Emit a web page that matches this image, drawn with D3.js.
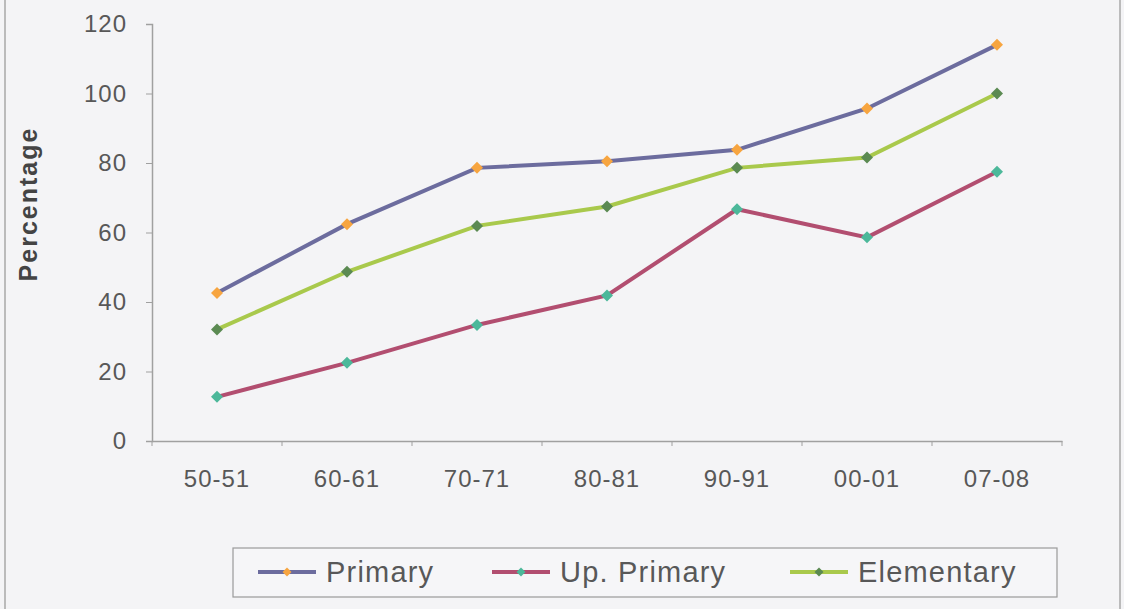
<!DOCTYPE html>
<html><head><meta charset="utf-8">
<script src="https://cdn.jsdelivr.net/npm/d3@7"></script>
<style>body{margin:0;background:#f4f4f6;} svg{display:block;font-family:"Liberation Sans",Arial,sans-serif;}</style>
</head><body>
<svg id="c" width="1124" height="609"></svg>
<script>
const categories = ["50-51","60-61","70-71","80-81","90-91","00-01","07-08"];
const primary = [42.6, 62.4, 78.6, 80.5, 83.8, 95.7, 114.0];
const upPrimary = [12.7, 22.5, 33.4, 41.9, 66.7, 58.6, 77.5];
const elementary = [32.1, 48.7, 61.9, 67.5, 78.6, 81.6, 100.0];
const yTicks = [0, 20, 40, 60, 80, 100, 120];
const seriesNames = ["Primary", "Up. Primary", "Elementary"];

const series = [
  {name: seriesNames[0], values: primary, line: "#6c6c9e", marker: "#f7a540"},
  {name: seriesNames[1], values: upPrimary, line: "#b24e70", marker: "#4cb89a"},
  {name: seriesNames[2], values: elementary, line: "#a9c94c", marker: "#5b8a52"}
];

const svg = d3.select("#c");
svg.append("rect").attr("x", 5).attr("y", -2).attr("width", 1115).attr("height", 614)
  .attr("fill", "#f4f4f6").attr("stroke", "#a8a8a8").attr("stroke-width", 1.5);

const x = d3.scaleBand().domain(categories).range([152, 1062]);
const y = d3.scaleLinear().domain([0, 120]).range([441, 24]);

const gx = svg.append("g").attr("transform", "translate(0,441)")
  .call(d3.axisBottom(x).tickSize(0).tickPadding(29));
gx.select(".domain").attr("stroke", "#a0a0a0").attr("stroke-width", 1.5);
gx.selectAll("text").attr("fill", "#585858").style("font-size", "24px").style("letter-spacing", "1px");
gx.selectAll(".sep").data(categories.concat(["end"])).enter().append("line")
  .attr("x1", (d, i) => 152 + i * x.bandwidth()).attr("x2", (d, i) => 152 + i * x.bandwidth())
  .attr("y1", 0).attr("y2", 5).attr("stroke", "#a0a0a0");

const gy = svg.append("g").attr("transform", "translate(152,0)")
  .call(d3.axisLeft(y).tickValues(yTicks).tickSize(6).tickPadding(19));
gy.select(".domain").attr("stroke", "#a0a0a0").attr("stroke-width", 1.5);
gy.selectAll(".tick line").attr("stroke", "#a0a0a0");
gy.selectAll("text").attr("fill", "#585858").style("font-size", "24px").style("letter-spacing", "1px");

svg.append("text").attr("transform", "translate(37,204) rotate(-90)")
  .attr("text-anchor", "middle").attr("fill", "#444").style("font-size", "25px")
  .style("font-weight", "bold").style("letter-spacing", "2px").text("Percentage");

const cx = d => x(d) + x.bandwidth() / 2;
const marker = d3.symbol().type(d3.symbolSquare).size(72);

series.forEach(s => {
  const line = d3.line().x((v, i) => cx(categories[i])).y(v => y(v));
  svg.append("path").attr("d", line(s.values)).attr("fill", "none")
    .attr("stroke", s.line).attr("stroke-width", 4);
});
series.forEach(s => {
  svg.append("g").selectAll("path").data(s.values).enter().append("path")
    .attr("d", marker)
    .attr("transform", (v, i) => `translate(${cx(categories[i])},${y(v)}) rotate(45)`)
    .attr("fill", s.marker);
});

// legend
const lg = svg.append("g");
lg.append("rect").attr("x", 233).attr("y", 548).attr("width", 824).attr("height", 49)
  .attr("fill", "#f6f6f8").attr("stroke", "#9a9a9a").attr("stroke-width", 1.2);
const legX = [258, 492, 790];
series.forEach((s, i) => {
  const g = lg.append("g").attr("transform", `translate(${legX[i]},572)`);
  g.append("line").attr("x1", 0).attr("x2", 58).attr("stroke", s.line).attr("stroke-width", 4);
  g.append("path").attr("d", d3.symbol().type(d3.symbolSquare).size(40)).attr("transform", "translate(29,0) rotate(45)").attr("fill", s.marker);
  g.append("text").attr("x", 68).attr("y", 10).attr("fill", "#585858").style("font-size", "29px")
    .style("letter-spacing", "1.2px").text(s.name);
});
</script>
</body></html>
